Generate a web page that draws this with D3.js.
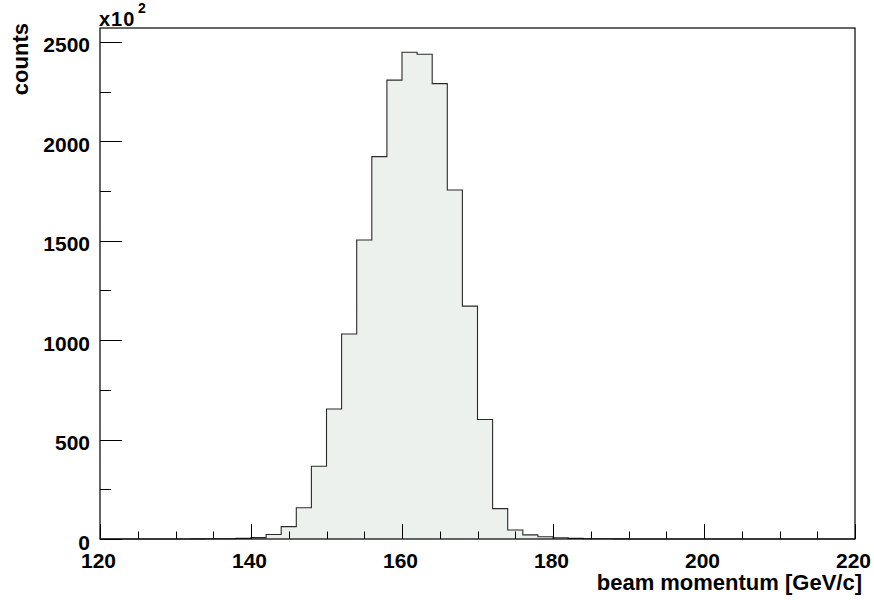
<!DOCTYPE html>
<html>
<head>
<meta charset="utf-8">
<script src="https://cdn.jsdelivr.net/npm/d3@7"></script>
<style>
  html, body { margin: 0; padding: 0; background: #fff; }
  svg { display: block; }
  text { font-family: "Liberation Sans", Arial, Helvetica, sans-serif; font-weight: bold; fill: #000; }
</style>
</head>
<body>
<svg id="chart" width="874" height="600"></svg>
<script>
// Bin lower edges (GeV/c), 2 GeV wide bins
const binLow = [120,122,124,126,128,130,132,134,136,138,140,142,144,146,148,150,152,154,156,158,
                160,162,164,166,168,170,172,174,176,178,180,182,184,186,188,190,192,194,196,198,
                200,202,204,206,208,210,212,214,216,218];
// counts in units of 10^2
const counts = [0,0,0,0,0,0,0.5,1,1.5,3,7,23,62,157,366,654,1031,1504,1923,2308,
                2448,2438,2290,1755,1171,601,153,45,21,11,6,3,1.5,1,0.5,0,0,0,0,0,
                0,0,0,0,0,0,0,0,0,0];
const binWidth = 2;
const xTicks = [120,140,160,180,200,220];
const yTicks = [0,500,1000,1500,2000,2500];
const xTitle = "beam momentum [GeV/c]";
const yTitle = "counts";

const frame = {left: 100, right: 855, top: 28, bottom: 539};
const svg = d3.select("#chart");

const x = d3.scaleLinear().domain([120, 220]).range([frame.left, frame.right]);
const y = d3.scaleLinear().domain([0, 2570]).range([frame.bottom, frame.top]);

// step points
const pts = [];
binLow.forEach((b, i) => {
  pts.push([b, counts[i]]);
  pts.push([b + binWidth, counts[i]]);
});

const area = d3.area().x(d => x(d[0])).y0(y(0)).y1(d => y(d[1]));
const line = d3.line().x(d => x(d[0])).y(d => y(d[1]));

svg.append("path").attr("d", area(pts)).attr("fill", "#edf1ee").attr("stroke", "none");
svg.append("path").attr("d", line(pts)).attr("fill", "none").attr("stroke", "#2a2a2a").attr("stroke-width", 1.1);

// frame
svg.append("rect")
  .attr("x", frame.left).attr("y", frame.top)
  .attr("width", frame.right - frame.left).attr("height", frame.bottom - frame.top)
  .attr("fill", "none").attr("stroke", "#000").attr("stroke-width", 1.2);

// x ticks (major + minor)
const xMinor = d3.range(120, 220.001, 5);
svg.append("g").selectAll("line").data(xMinor).join("line")
  .attr("x1", d => Math.round(x(d)) + 0.5).attr("x2", d => Math.round(x(d)) + 0.5)
  .attr("y1", frame.bottom)
  .attr("y2", d => frame.bottom - (d % 20 === 0 ? 15 : 7.5))
  .attr("stroke", "#000").attr("stroke-width", 1);

const yMinor = d3.range(0, 2570, 250);
svg.append("g").selectAll("line").data(yMinor).join("line")
  .attr("y1", d => Math.round(y(d)) + 0.5).attr("y2", d => Math.round(y(d)) + 0.5)
  .attr("x1", frame.left)
  .attr("x2", d => frame.left + (d % 500 === 0 ? 22 : 11))
  .attr("stroke", "#000").attr("stroke-width", 1);

// tick labels
svg.append("g").selectAll("text").data(xTicks).join("text")
  .attr("x", d => x(d) - 1.5).attr("y", frame.bottom + 29)
  .attr("text-anchor", "middle").attr("font-size", 21)
  .text(d => d);

svg.append("g").selectAll("text").data(yTicks).join("text")
  .attr("x", 90).attr("y", d => y(d) + 10.5)
  .attr("text-anchor", "end").attr("font-size", 21)
  .text(d => d);

// axis titles
svg.append("text")
  .attr("x", 862).attr("y", 590)
  .attr("text-anchor", "end").attr("font-size", 22)
  .text(xTitle);

svg.append("text")
  .attr("transform", "translate(28,23) rotate(-90)")
  .attr("text-anchor", "end").attr("font-size", 22)
  .text(yTitle);

// exponent label
const ex = svg.append("text").attr("x", 99).attr("y", 26).attr("font-size", 20).attr("letter-spacing", 1);
ex.append("tspan").text("x10");
svg.append("text").attr("x", 138).attr("y", 13).attr("font-size", 14).text("2");
</script>
</body>
</html>
